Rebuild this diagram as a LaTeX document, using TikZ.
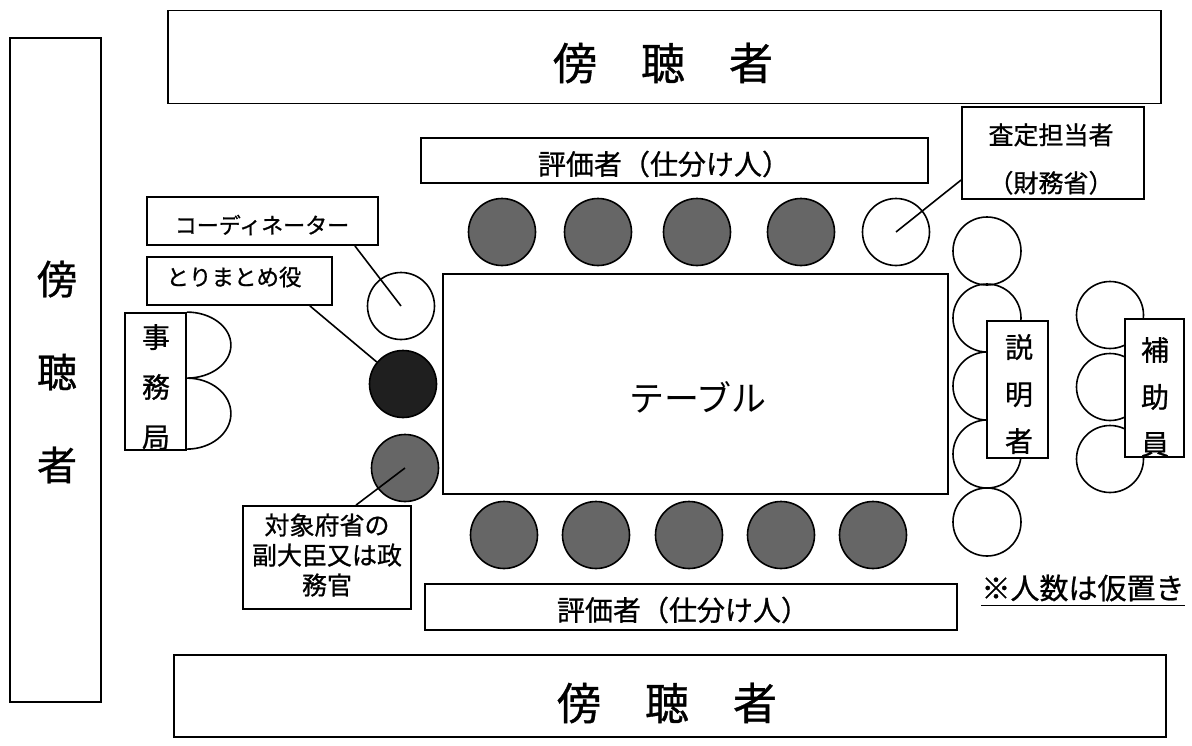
\documentclass[tikz,border=0pt]{standalone}
\usepackage{fontspec}
\newfontfamily\jp[FakeBold=0.8]{Noto Sans CJK JP}
\newfontfamily\jplt{Noto Sans CJK JP}
\usetikzlibrary{calc}
\tikzset{
  box/.style={draw, rectangle, line width=1.8pt, fill=white, inner sep=0pt},
  seat/.style={draw, circle, line width=1.6pt, minimum size=67pt, inner sep=0pt},
  member/.style={seat, fill=black!60},
  chair/.style={seat, fill=black!88},
  lead/.style={line width=1.6pt},
  lbl/.style={inner sep=0pt, align=center},
}
\newcommand{\fs}[2]{\jp\fontsize{#1}{#2}\selectfont}
\begin{document}
\begin{tikzpicture}[x=1pt,y=-1pt]
\useasboundingbox (0,0) rectangle (1192,745);
\fill[white] (0,0) rectangle (1192,745);

% audience
\node[box, minimum width=91pt, minimum height=664pt] (leftAud) at (55.5,370) {};
\node[lbl, font=\fs{40}{93}] (leftAudT) at (57,372) {傍\\聴\\者};
\node[box, minimum width=993pt, minimum height=93pt] (topAud) at (664.5,57) {};
\node[lbl, font=\fs{44}{50}] (topAudT) at (663,63) {傍　聴　者};
\node[box, minimum width=992pt, minimum height=82pt] (botAud) at (670,696) {};
\node[lbl, font=\fs{44}{50}] (botAudT) at (667,703) {傍　聴　者};

% evaluator labels
\node[box, minimum width=507pt, minimum height=45pt] (topEval) at (674.5,160.5) {};
\node[lbl, font=\fs{28}{30}] (topEvalT) at (664,164) {評価者（仕分け人）};
\node[box, minimum width=532pt, minimum height=46pt] (botEval) at (691,607) {};
\node[lbl, font=\fs{28}{30}] (botEvalT) at (683,610) {評価者（仕分け人）};

% top seats
\node[member] (t1) at (502,232) {};
\node[member] (t2) at (598,232) {};
\node[member] (t3) at (697,232) {};
\node[member] (t4) at (801,232) {};
\node[seat] (sateiSeat) at (896,232) {};

% bottom seats
\node[member] (b1) at (504,535) {};
\node[member] (b2) at (596,535) {};
\node[member] (b3) at (689,535) {};
\node[member] (b4) at (781,535) {};
\node[member] (b5) at (873,535) {};

% table
\node[box, minimum width=505pt, minimum height=220pt] (table) at (695.5,384) {};
\node[lbl, font=\jplt\fontsize{35}{40}\selectfont] (tableT) at (698,397) {テーブル};

% left side seats
\node[seat] (coordSeat) at (401,306) {};
\node[chair] (chairSeat) at (403,384) {};
\node[member] (fukuSeat) at (405,468) {};

% left labels
\node[box, minimum width=231pt, minimum height=48pt] (coordBox) at (262.5,221) {};
\node[lbl, font=\fs{22}{24}] (coordT) at (262,225) {コーディネーター};
\node[box, minimum width=185pt, minimum height=48pt] (toriBox) at (239.5,281) {};
\node[lbl, font=\fs{22.5}{24}] (toriT) at (234,277) {とりまとめ役};
\node[box, minimum width=168pt, minimum height=103pt] (fukuBox) at (327,557.5) {};
\node[lbl, font=\fs{25}{30}] (fukuT) at (327,555) {対象府省の\\副大臣又は政\\務官};

\draw[lead] ($(coordBox.south east)+(-24,0)$) -- (coordSeat.center);
\draw[lead] ($(toriBox.south east)+(-23,0)$) -- (chairSeat);
\draw[lead] ($(fukuBox.north)+(29,0)$) -- (fukuSeat.center);

% secretariat
\node[box, minimum width=61pt, minimum height=137pt] (jimuBox) at (155.5,381.5) {};
\node[lbl, font=\fs{28}{50}] (jimuT) at (156,387) {事\\務\\局};
\draw[lead] (jimuBox.north east) arc[start angle=90, end angle=-90, x radius=44pt, y radius=33pt]
  arc[start angle=90, end angle=-90, x radius=44pt, y radius=35.5pt];

% satei
\node[box, minimum width=182pt, minimum height=92pt] (sateiBox) at (1053,153) {};
\node[lbl, font=\fs{25}{48}] (sateiT) at (1051,159) {査定担当者\\（財務省）};
\draw[lead] ($(sateiBox.west)+(0,27)$) -- (sateiSeat.center);

% explainers
\node[seat, minimum size=68pt] (s1) at (987,251) {};
\node[seat, minimum size=68pt] (s2) at (987,318) {};
\node[seat, minimum size=68pt] (s3) at (987,386) {};
\node[seat, minimum size=68pt] (s4) at (987,454) {};
\node[seat, minimum size=68pt] (s5) at (987,522) {};
\node[box, minimum width=61pt, minimum height=137pt] (setBox) at (1017.5,389.5) {};
\node[lbl, font=\fs{28}{47}] (setT) at (1019,394) {説\\明\\者};

% assistants
\node[seat] (h1) at (1110,315) {};
\node[seat] (h2) at (1110,387) {};
\node[seat] (h3) at (1110,459) {};
\node[box, minimum width=59pt, minimum height=138pt] (hojoBox) at (1154.5,388) {};
\node[lbl, font=\fs{28}{47}] (hojoT) at (1155,397) {補\\助\\員};

% note
\node[lbl, font=\fs{29}{30}] (note) at (1083,588) {※人数は仮置き};
\draw[line width=1.4pt] ($(note.south west)+(0,4)$) -- ($(note.south east)+(0,4)$);
\end{tikzpicture}
\end{document}
